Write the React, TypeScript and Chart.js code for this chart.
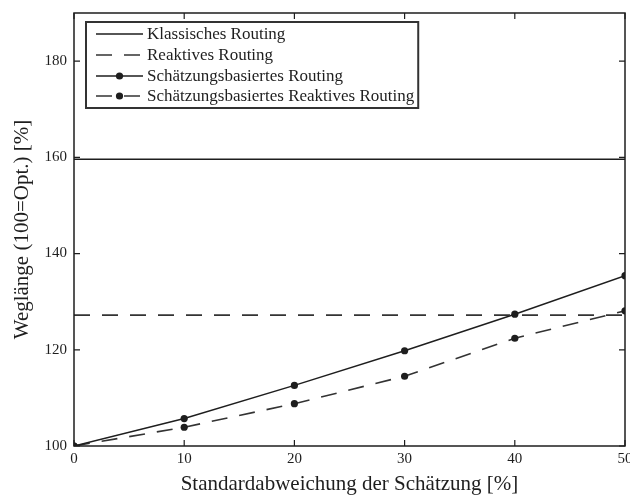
import React, { useEffect, useRef } from "react";
import { Chart, registerables } from "chart.js";

Chart.register(...registerables);

const xValues = [0, 10, 20, 30, 40, 50];
const lineEnds = [0, 50];
const klassischValue = 159.6;
const reaktivValue = 127.2;
const schaetzungValues = [100, 105.7, 112.6, 119.8, 127.4, 135.4];
const schaetzungReaktivValues = [100, 103.9, 108.8, 114.5, 122.4, 128.1];
const seriesLabels = [
  "Klassisches Routing",
  "Reaktives Routing",
  "Schätzungsbasiertes Routing",
  "Schätzungsbasiertes Reaktives Routing",
];
const xTitle = "Standardabweichung der Schätzung [%]";
const yTitle = "Weglänge (100=Opt.) [%]";

const INK = "#1e1e1e";
const FONT = "'Liberation Serif', 'DejaVu Serif', serif";
const DASH = [16, 12];

const framePlugin = {
  id: "frameAndLegend",
  afterDatasetsDraw(chart: any) {
    const { ctx, chartArea } = chart;
    const { left, right, top, bottom } = chartArea;
    ctx.save();
    ctx.strokeStyle = INK;
    ctx.lineWidth = 1.5;
    ctx.setLineDash([]);
    ctx.strokeRect(left, top, right - left, bottom - top);
    // inward ticks
    const tl = 6;
    const xs = chart.scales.x;
    const ys = chart.scales.y;
    ctx.lineWidth = 1.2;
    ctx.beginPath();
    xs.ticks.forEach((t: any) => {
      const px = xs.getPixelForValue(t.value);
      ctx.moveTo(px, bottom);
      ctx.lineTo(px, bottom - tl);
      ctx.moveTo(px, top);
      ctx.lineTo(px, top + tl);
    });
    ys.ticks.forEach((t: any) => {
      const py = ys.getPixelForValue(t.value);
      ctx.moveTo(left, py);
      ctx.lineTo(left + tl, py);
      ctx.moveTo(right, py);
      ctx.lineTo(right - tl, py);
    });
    ctx.stroke();

    // legend
    const x0 = left + 12;
    const y0 = top + 9;
    ctx.font = `17px ${FONT}`;
    let maxW = 0;
    chart.data.datasets.forEach((d: any) => {
      maxW = Math.max(maxW, ctx.measureText(d.label).width);
    });
    const w = 61 + maxW + 4;
    const h = 86;
    ctx.fillStyle = "#ffffff";
    ctx.fillRect(x0, y0, w, h);
    ctx.lineWidth = 2;
    ctx.strokeStyle = "#333";
    ctx.strokeRect(x0, y0, w, h);
    const rowYs = [12, 33, 54, 74];
    chart.data.datasets.forEach((d: any, i: number) => {
      const ry = y0 + rowYs[i];
      ctx.strokeStyle = d.borderColor;
      ctx.lineWidth = d.borderWidth;
      ctx.setLineDash(d.borderDash || []);
      ctx.beginPath();
      ctx.moveTo(x0 + 10, ry);
      ctx.lineTo(x0 + 57, ry);
      ctx.stroke();
      ctx.setLineDash([]);
      if (d.legendMarker) {
        ctx.fillStyle = INK;
        ctx.beginPath();
        ctx.arc(x0 + 33.5, ry, 3.6, 0, Math.PI * 2);
        ctx.fill();
      }
      ctx.fillStyle = INK;
      ctx.textBaseline = "middle";
      ctx.textAlign = "left";
      ctx.fillText(d.label, x0 + 61, ry + 1);
    });
    ctx.restore();
  },
};

const noPad = (s: any) => {
  s.paddingTop = 0;
  s.paddingBottom = 0;
  s.paddingLeft = 0;
  s.paddingRight = 0;
};

export default function App() {
  const canvasRef = useRef<HTMLCanvasElement | null>(null);

  useEffect(() => {
    if (!canvasRef.current) return;
    const toPts = (xs: number[], ys: number[]) => xs.map((x, i) => ({ x, y: ys[i] }));
    const chart = new Chart(canvasRef.current, {
      type: "line",
      data: {
        datasets: [
          {
            label: seriesLabels[0],
            data: toPts(lineEnds, lineEnds.map(() => klassischValue)),
            borderColor: INK,
            borderWidth: 1.5,
            pointRadius: 0,
            legendMarker: false,
          } as any,
          {
            label: seriesLabels[1],
            data: toPts(lineEnds, lineEnds.map(() => reaktivValue)),
            borderColor: "#333",
            borderWidth: 1.6,
            borderDash: DASH,
            pointRadius: 0,
            legendMarker: false,
          } as any,
          {
            label: seriesLabels[2],
            data: toPts(xValues, schaetzungValues),
            borderColor: INK,
            borderWidth: 1.5,
            pointRadius: 3.6,
            pointBackgroundColor: INK,
            pointBorderColor: INK,
            pointBorderWidth: 0,
            legendMarker: true,
          } as any,
          {
            label: seriesLabels[3],
            data: toPts(xValues, schaetzungReaktivValues),
            borderColor: "#333",
            borderWidth: 1.6,
            borderDash: DASH,
            pointRadius: 3.6,
            pointBackgroundColor: INK,
            pointBorderColor: INK,
            pointBorderWidth: 0,
            legendMarker: true,
          } as any,
        ],
      },
      options: {
        animation: false,
        responsive: false,
        maintainAspectRatio: false,
        devicePixelRatio: 1,
        layout: { padding: { top: 13, right: 5, left: 0, bottom: 0 } },
        plugins: { legend: { display: false }, tooltip: { enabled: false } },
        elements: { line: { tension: 0 } },
        scales: {
          x: {
            type: "linear",
            min: 0,
            max: 50,
            grid: { display: false, drawTicks: false },
            border: { display: false },
            ticks: {
              stepSize: 10,
              padding: 4,
              color: INK,
              font: { family: FONT, size: 15 },
              maxRotation: 0,
            },
            title: {
              display: true,
              text: xTitle,
              color: INK,
              font: { family: FONT, size: 21 },
              padding: { top: 0, bottom: 0 },
            },
            afterFit: (s: any) => {
              s.height = 51;
              noPad(s);
            },
          },
          y: {
            type: "linear",
            min: 100,
            max: 190,
            grid: { display: false, drawTicks: false },
            border: { display: false },
            ticks: {
              stepSize: 20,
              includeBounds: false,
              padding: 7,
              color: INK,
              font: { family: FONT, size: 15 },
            },
            title: {
              display: true,
              text: yTitle,
              color: INK,
              font: { family: FONT, size: 21 },
              padding: { top: 9.5, bottom: 0 },
            },
            afterFit: (s: any) => {
              s.width = 74;
              noPad(s);
            },
          },
        },
      } as any,
      plugins: [framePlugin],
    });
    return () => chart.destroy();
  }, []);

  return (
    <div style={{ position: "fixed", left: 0, top: 0, width: 630, height: 497, background: "#fff" }}>
      <canvas ref={canvasRef} width={630} height={497} style={{ display: "block" }} />
    </div>
  );
}
